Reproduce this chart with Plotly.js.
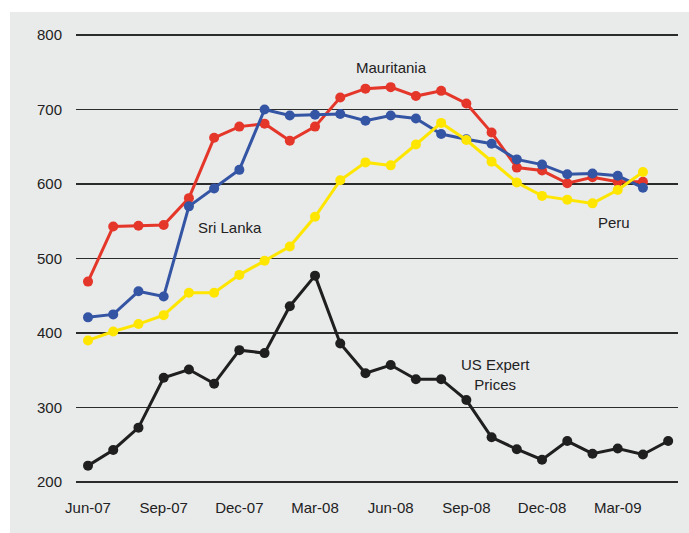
<!DOCTYPE html>
<html>
<head>
<meta charset="utf-8">
<script src="https://cdn.plot.ly/plotly-3.0.1.min.js"></script>
<style>
  html, body { margin: 0; padding: 0; background: #ffffff; }
  #chart { position: absolute; left: 10px; top: 12px; width: 679px; height: 521px; }
</style>
</head>
<body>
<div id="chart"></div>
<script>
// Months (Jun-07 .. May-09)
const months = ['Jun-07','Jul-07','Aug-07','Sep-07','Oct-07','Nov-07','Dec-07','Jan-08','Feb-08','Mar-08','Apr-08','May-08',
                'Jun-08','Jul-08','Aug-08','Sep-08','Oct-08','Nov-08','Dec-08','Jan-09','Feb-09','Mar-09','Apr-09','May-09'];
const tickLabels = ['Jun-07','Sep-07','Dec-07','Mar-08','Jun-08','Sep-08','Dec-08','Mar-09'];
const yTicks = [200, 300, 400, 500, 600, 700, 800];

const mauritania = [469, 543, 544, 545, 581, 662, 677, 681, 658, 677, 716, 728, 730, 718, 725, 708, 669, 622, 618, 601, 609, 603, 603];
const sriLanka   = [421, 425, 456, 449, 570, 594, 619, 700, 692, 693, 694, 685, 692, 688, 667, 660, 654, 633, 626, 613, 614, 611, 595];
const peru       = [390, 402, 412, 424, 454, 454, 478, 497, 516, 556, 605, 629, 625, 653, 682, 659, 630, 602, 584, 579, 574, 592, 616];
const usExport   = [222, 243, 273, 340, 351, 332, 377, 373, 436, 477, 386, 346, 357, 338, 338, 310, 260, 244, 230, 255, 238, 245, 237, 255];

const idx = arr => arr.map((_, i) => i);
const tickIdx = tickLabels.map(t => months.indexOf(t));

function series(name, vals, color) {
  return {
    type: 'scatter', mode: 'lines+markers', name: name,
    x: idx(vals), y: vals,
    line: { color: color, width: 3 },
    marker: { color: color, size: 10 },
    cliponaxis: false,
    hoverinfo: 'x+y'
  };
}

const data = [
  series('Mauritania', mauritania, '#e5362a'),
  series('Sri Lanka', sriLanka, '#3454a4'),
  series('Peru', peru, '#ffe600'),
  series('US Expert Prices', usExport, '#1f1f1f')
];

const font = { family: '"Liberation Sans", Arial, Helvetica, sans-serif', size: 15, color: '#222222' };

const layout = {
  width: 679, height: 521,
  paper_bgcolor: '#e9eaea',
  plot_bgcolor: '#e9eaea',
  margin: { l: 66, r: 11, t: 20, b: 48, pad: 0 },
  showlegend: false,
  font: font,
  xaxis: {
    range: [-0.476, 23.39],
    tickmode: 'array', tickvals: tickIdx, ticktext: tickLabels,
    showgrid: false, zeroline: false, showline: false, ticks: '',
    ticklabelstandoff: 12,
    tickfont: font
  },
  yaxis: {
    range: [196, 804],
    tickmode: 'array', tickvals: yTicks,
    showgrid: true, gridcolor: '#2b2b2b', gridwidth: 1.1,
    zeroline: false, showline: false, ticks: '',
    ticklabelstandoff: 13,
    tickfont: font
  },
  annotations: [
    { x: 12.05, y: 757, xref: 'x', yref: 'y', text: 'Mauritania', showarrow: false, font: font },
    { x: 5.63, y: 541.5, xref: 'x', yref: 'y', text: 'Sri Lanka', showarrow: false, font: font },
    { x: 20.87, y: 547.8, xref: 'x', yref: 'y', text: 'Peru', showarrow: false, font: font },
    { x: 16.16, y: 344.9, xref: 'x', yref: 'y', text: 'US Expert<br>Prices', showarrow: false, font: font }
  ]
};

Plotly.newPlot('chart', data, layout, { displayModeBar: false, staticPlot: true });
</script>
</body>
</html>
